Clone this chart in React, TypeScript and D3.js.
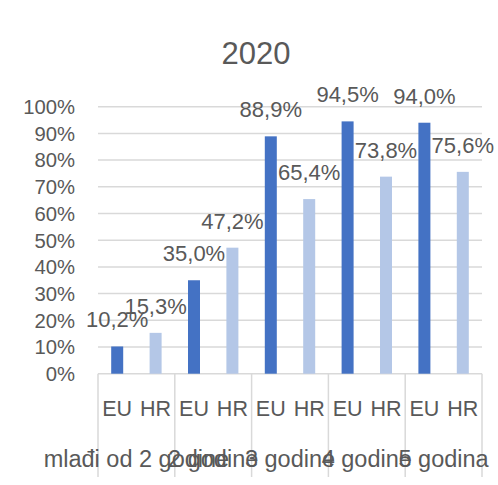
import React from "react";
import * as d3 from "d3";

const categories = ["mlađi od 2 godine", "2 godine", "3 godine", "4 godine", "5 godina"];
const series = ["EU", "HR"];
const euValues = [10.2, 35.0, 88.9, 94.5, 94.0];
const hrValues = [15.3, 47.2, 65.4, 73.8, 75.6];
const yTicks = [0, 10, 20, 30, 40, 50, 60, 70, 80, 90, 100];
const colors = ["#4472C4", "#B4C7E7"];
const title = "2020";

const W = 498;
const H = 485;
const FONT = "'Liberation Sans', Arial, sans-serif";
const TEXT = "#595959";
const GRID = "#D9D9D9";

export default function App() {
  const x = d3.scaleBand<string>().domain(categories).range([98, 482]).padding(0);
  const xi = d3.scaleBand<string>().domain(series).range([0, x.bandwidth()]).padding(0);
  const y = d3.scaleLinear().domain([0, 100]).range([373.7, 106.7]);
  const barW = 12;
  const vals = [euValues, hrValues];
  const fmt = (v: number) => v.toFixed(1).replace(".", ",") + "%";
  const axisBottom = 477;

  return (
    <svg width={W} height={H} style={{ position: "absolute", left: 0, top: 0 }} fontFamily={FONT}>
      <rect x={0} y={0} width={W} height={H} fill="#fff" />
      <text x={256} y={64} textAnchor="middle" fontSize={31} fill={TEXT}>{title}</text>
      {yTicks.map((t) => (
        <g key={t}>
          <line x1={98} x2={482} y1={y(t)} y2={y(t)} stroke={GRID} strokeWidth={1.5} />
          <text x={75} y={y(t) + 7.3} textAnchor="end" fontSize={20.3} fill={TEXT}>{t + "%"}</text>
        </g>
      ))}
      {[...categories.map((c) => x(c) as number), 482].map((bx, i) => (
        <line key={i} x1={bx} x2={bx} y1={y(0)} y2={axisBottom} stroke={GRID} strokeWidth={1.5} />
      ))}
      {series.map((s, si) => (
        <g key={s}>
          {categories.map((c, ci) => {
            const cx = (x(c) as number) + (xi(s) as number) + xi.bandwidth() / 2;
            const v = vals[si][ci];
            return (
              <rect key={c} x={cx - barW / 2} y={y(v)} width={barW} height={y(0) - y(v)} fill={colors[si]} />
            );
          })}
        </g>
      ))}
      {series.map((s, si) => (
        <g key={s + "l"}>
          {categories.map((c, ci) => {
            const cx = (x(c) as number) + (xi(s) as number) + xi.bandwidth() / 2;
            const v = vals[si][ci];
            return (
              <g key={c}>
                <text x={cx} y={y(v) - 19} textAnchor="middle" fontSize={22} fill={TEXT}>{fmt(v)}</text>
                <text x={cx} y={416} textAnchor="middle" fontSize={21.5} fill={TEXT}>{s}</text>
              </g>
            );
          })}
        </g>
      ))}
      {categories.map((c) => (
        <text key={c} x={(x(c) as number) + x.bandwidth() / 2} y={467} textAnchor="middle" fontSize={23.5} fill={TEXT}>{c}</text>
      ))}
    </svg>
  );
}
